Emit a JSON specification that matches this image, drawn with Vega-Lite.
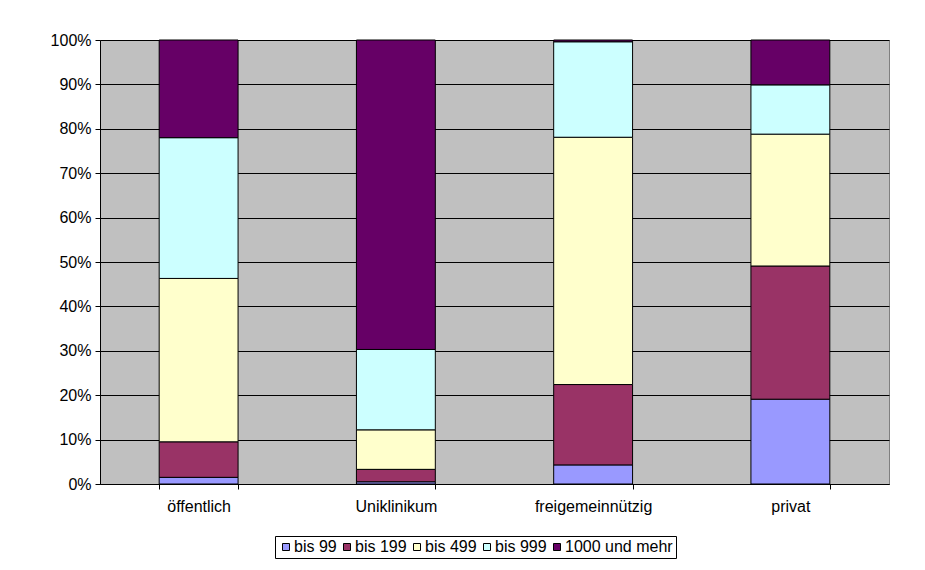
{
  "$schema": "https://vega.github.io/schema/vega-lite/v6.json",
  "width": 789,
  "height": 444,
  "autosize": {"type": "none"},
  "padding": {"left": 100, "top": 40, "right": 36, "bottom": 86},
  "background": "white",
  "data": {
    "values": [
      {"traeger": "öffentlich", "groesse": "bis 99", "rank": 1, "anteil": 1.5},
      {"traeger": "öffentlich", "groesse": "bis 199", "rank": 2, "anteil": 8.0},
      {"traeger": "öffentlich", "groesse": "bis 499", "rank": 3, "anteil": 36.8},
      {"traeger": "öffentlich", "groesse": "bis 999", "rank": 4, "anteil": 31.7},
      {"traeger": "öffentlich", "groesse": "1000 und mehr", "rank": 5, "anteil": 22.0},
      {"traeger": "Uniklinikum", "groesse": "bis 99", "rank": 1, "anteil": 0.5},
      {"traeger": "Uniklinikum", "groesse": "bis 199", "rank": 2, "anteil": 2.8},
      {"traeger": "Uniklinikum", "groesse": "bis 499", "rank": 3, "anteil": 8.9},
      {"traeger": "Uniklinikum", "groesse": "bis 999", "rank": 4, "anteil": 18.1},
      {"traeger": "Uniklinikum", "groesse": "1000 und mehr", "rank": 5, "anteil": 69.7},
      {"traeger": "freigemeinnützig", "groesse": "bis 99", "rank": 1, "anteil": 4.3},
      {"traeger": "freigemeinnützig", "groesse": "bis 199", "rank": 2, "anteil": 18.1},
      {"traeger": "freigemeinnützig", "groesse": "bis 499", "rank": 3, "anteil": 55.7},
      {"traeger": "freigemeinnützig", "groesse": "bis 999", "rank": 4, "anteil": 21.5},
      {"traeger": "freigemeinnützig", "groesse": "1000 und mehr", "rank": 5, "anteil": 0.4},
      {"traeger": "privat", "groesse": "bis 99", "rank": 1, "anteil": 19.1},
      {"traeger": "privat", "groesse": "bis 199", "rank": 2, "anteil": 30.0},
      {"traeger": "privat", "groesse": "bis 499", "rank": 3, "anteil": 29.7},
      {"traeger": "privat", "groesse": "bis 999", "rank": 4, "anteil": 11.1},
      {"traeger": "privat", "groesse": "1000 und mehr", "rank": 5, "anteil": 10.1}
    ]
  },
  "mark": {"type": "bar", "stroke": "black", "strokeWidth": 1},
  "encoding": {
    "x": {
      "field": "traeger",
      "type": "nominal",
      "sort": ["öffentlich", "Uniklinikum", "freigemeinnützig", "privat"],
      "scale": {"paddingInner": 0.6, "paddingOuter": 0.3},
      "axis": {
        "title": null,
        "labelAngle": 0,
        "tickBand": "extent",
        "tickSize": 5,
        "tickColor": "black",
        "domainColor": "black",
        "labelPadding": 9,
        "labelFontSize": 16,
        "labelFont": "Liberation Sans",
        "labelColor": "black",
        "grid": false
      }
    },
    "y": {
      "field": "anteil",
      "type": "quantitative",
      "stack": "normalize",
      "scale": {"domain": [0, 1], "nice": false},
      "axis": {
        "title": null,
        "format": ".0%",
        "values": [0, 0.1, 0.2, 0.3, 0.4, 0.5, 0.6, 0.7, 0.8, 0.9, 1.0],
        "tickSize": 5,
        "tickColor": "black",
        "domainColor": "black",
        "labelPadding": 4,
        "labelFontSize": 16,
        "labelFont": "Liberation Sans",
        "labelColor": "black",
        "grid": true,
        "gridColor": "black",
        "gridWidth": 1,
        "gridOpacity": 1
      }
    },
    "color": {
      "field": "groesse",
      "type": "nominal",
      "scale": {
        "domain": ["bis 99", "bis 199", "bis 499", "bis 999", "1000 und mehr"],
        "range": ["#9999FF", "#993366", "#FFFFCC", "#CCFFFF", "#660066"]
      },
      "legend": {
        "title": null,
        "orient": "none",
        "direction": "horizontal",
        "legendX": 175,
        "legendY": 496,
        "columns": 5,
        "symbolType": "square",
        "symbolSize": 49,
        "symbolStrokeColor": "black",
        "symbolStrokeWidth": 1,
        "symbolOpacity": 1,
        "labelFontSize": 16,
        "labelFont": "Liberation Sans",
        "labelColor": "black",
        "labelOffset": 0,
        "columnPadding": 2,
        "padding": 3,
        "strokeColor": "black",
        "fillColor": "white"
      }
    },
    "order": {"field": "rank", "type": "quantitative"}
  },
  "config": {
    "view": {"fill": "#C0C0C0", "stroke": "#808080", "strokeWidth": 1},
    "font": "Liberation Sans"
  }
}
